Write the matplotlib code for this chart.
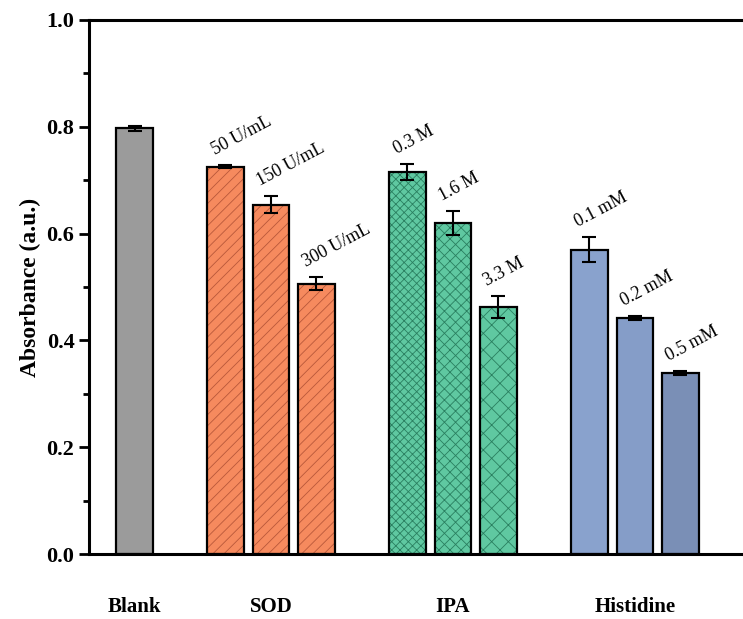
import matplotlib
matplotlib.use('Agg')
import matplotlib.pyplot as plt
from matplotlib.ticker import MultipleLocator

plt.rcParams['font.family'] = 'Liberation Serif'
plt.rcParams['hatch.linewidth'] = 0.6

# data
groups = ['Blank', 'SOD', 'IPA', 'Histidine']
group_pos = [0, 3, 7, 11]
positions = [0, 2, 3, 4, 6, 7, 8, 10, 11, 12]
values = [0.797, 0.725, 0.654, 0.506, 0.716, 0.620, 0.463, 0.570, 0.442, 0.339]
errors = [0.004, 0.003, 0.016, 0.012, 0.015, 0.023, 0.021, 0.024, 0.004, 0.004]
conc_labels = ['', '50 U/mL', '150 U/mL', '300 U/mL', '0.3 M', '1.6 M', '3.3 M',
               '0.1 mM', '0.2 mM', '0.5 mM']
colors = ['#9b9b9b', '#f68a5e', '#f68a5e', '#f68a5e', '#5fc8a1', '#5fc8a1', '#5fc8a1',
          '#89a2cd', '#859dc8', '#7a8fb6']
hatch_colors = ['#9b9b9b', '#b9583a', '#b9583a', '#b9583a', '#2a7f60', '#2a7f60', '#2a7f60',
                '#89a2cd', '#859dc8', '#7a8fb6']
hatches = ['', '///', '///', '///', 'xxxx', 'xxx', 'xx', '', '', '']

fig = plt.figure(figsize=(7.43, 6.19), dpi=100)
ax = fig.add_axes([0.1198, 0.105, 0.894, 0.8627])

for x, v, c, hc, h in zip(positions, values, colors, hatch_colors, hatches):
    ax.bar(x, v, width=0.8, color=c, edgecolor=hc, hatch=h, linewidth=0, zorder=2)
ax.bar(positions, values, width=0.8, facecolor='none', edgecolor='black', linewidth=1.6, zorder=3)
ax.errorbar(positions, values, yerr=errors, fmt='none', ecolor='black', elinewidth=1.5,
            capsize=5, capthick=1.5, zorder=4)

for x, v, e, lab in zip(positions, values, errors, conc_labels):
    if lab:
        ax.text(x - 0.2, v + e + 0.012, lab, rotation=28, rotation_mode='anchor',
                ha='left', va='bottom', fontsize=13)

ax.set_xlim(-1, 13.6)
ax.set_ylim(0, 1.0)
ax.set_xticks(group_pos)
ax.set_xticklabels(groups, fontsize=15, fontweight='bold')
ax.tick_params(axis='x', length=0, pad=31)
ax.yaxis.set_major_locator(MultipleLocator(0.2))
ax.yaxis.set_minor_locator(MultipleLocator(0.1))
ax.tick_params(axis='y', which='major', direction='out', length=7, width=2, labelsize=16)
ax.tick_params(axis='y', which='minor', direction='out', length=4, width=2)
for t in ax.get_yticklabels():
    t.set_fontweight('bold')
ax.set_ylabel('Absorbance (a.u.)', fontsize=17, fontweight='bold', labelpad=4)
for s in ax.spines.values():
    s.set_linewidth(2.2)

plt.savefig('out.png', dpi=100)
